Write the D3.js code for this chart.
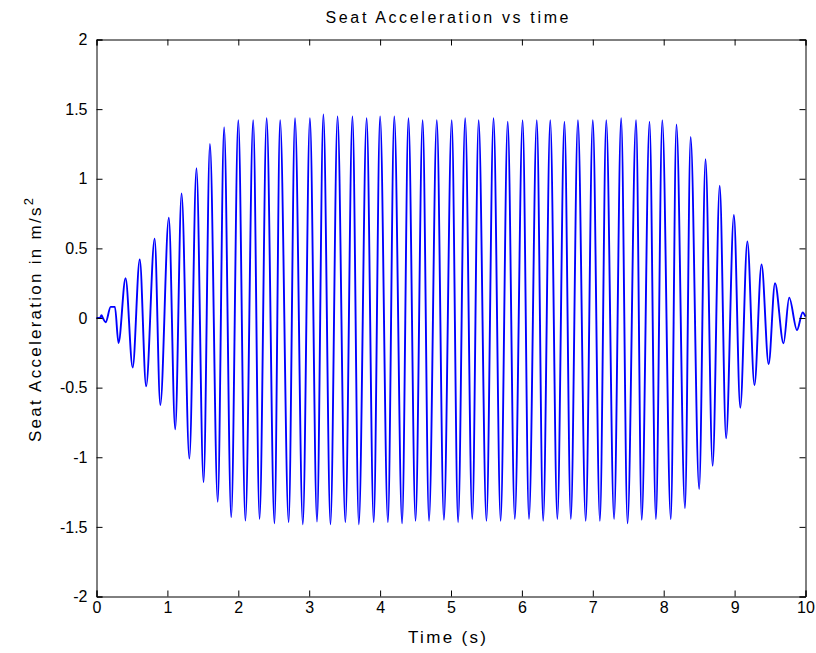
<!DOCTYPE html>
<html>
<head>
<meta charset="utf-8">
<script src="https://cdn.jsdelivr.net/npm/d3@7"></script>
<style>
  body { margin: 0; background: #fff; }
  text { font-family: "Liberation Sans", Arial, sans-serif; fill: #000; }
</style>
</head>
<body>
<svg id="chart" width="816" height="653"></svg>
<script>
// Turning points of the seat acceleration trace (time in s, value in m/s^2)
const extremeTimes = [
  0.00, 0.05, 0.07, 0.09, 0.13, 0.20, 0.26, 0.31,
  0.41, 0.51, 0.61, 0.70, 0.82, 0.90, 1.02, 1.11, 1.20, 1.31,
  1.41, 1.51, 1.60, 1.71, 1.80, 1.90, 2.00, 2.10,
  2.21, 2.30, 2.40, 2.51, 2.59, 2.71, 2.80, 2.91, 3.01, 3.11,
  3.20, 3.30, 3.40, 3.51, 3.61, 3.70, 3.81, 3.91, 4.00, 4.11,
  4.20, 4.31, 4.40, 4.50, 4.60, 4.69, 4.80, 4.90, 5.01, 5.10,
  5.20, 5.30, 5.39, 5.50, 5.60, 5.70, 5.80, 5.90, 6.01, 6.10,
  6.21, 6.30, 6.40, 6.50, 6.60, 6.69, 6.79, 6.90, 7.00, 7.10,
  7.19, 7.30, 7.40, 7.49, 7.61, 7.69, 7.80, 7.89, 7.98, 8.10,
  8.18, 8.30, 8.38, 8.50, 8.59, 8.69, 8.79, 8.88, 8.99, 9.08,
  9.18, 9.28, 9.38, 9.48, 9.57, 9.69, 9.77, 9.88, 9.96, 10.00
];
const extremeValues = [
  0.00, 0.00, 0.02, 0.00, -0.03, 0.08, 0.08, -0.18,
  0.285, -0.355, 0.42, -0.49, 0.57, -0.625, 0.72, -0.80, 0.895, -1.01,
  1.075, -1.18, 1.25, -1.32, 1.37, -1.43, 1.42, -1.455,
  1.42, -1.443, 1.434, -1.474, 1.42, -1.467, 1.434, -1.481, 1.434, -1.462,
  1.462, -1.481, 1.448, -1.467, 1.448, -1.481, 1.434, -1.467, 1.448, -1.467,
  1.448, -1.474, 1.434, -1.457, 1.42, -1.457, 1.42, -1.45, 1.42, -1.467,
  1.434, -1.443, 1.42, -1.457, 1.434, -1.457, 1.41, -1.443, 1.42, -1.443,
  1.42, -1.457, 1.42, -1.443, 1.41, -1.443, 1.42, -1.457, 1.42, -1.457,
  1.42, -1.443, 1.434, -1.474, 1.42, -1.45, 1.41, -1.445, 1.42, -1.445,
  1.39, -1.366, 1.30, -1.228, 1.14, -1.062, 0.95, -0.864, 0.74, -0.644,
  0.55, -0.481, 0.385, -0.33, 0.25, -0.182, 0.146, -0.086, 0.04, 0.01
];

const xTicks = [0, 1, 2, 3, 4, 5, 6, 7, 8, 9, 10];
const yTicks = [-2, -1.5, -1, -0.5, 0, 0.5, 1, 1.5, 2];
const titleText = "Seat Acceleration vs time";
const xLabelText = "Time (s)";
const yLabelText = "Seat Acceleration in m/s";
const yLabelSup = "2";

const svg = d3.select("#chart");
const plotLeft = 96.5, plotRight = 805.5, plotTop = 39.5, plotBottom = 596.5;

const x = d3.scaleLinear().domain([0, 10]).range([plotLeft, plotRight]);
const y = d3.scaleLinear().domain([-2, 2]).range([plotBottom, plotTop]);

const points = extremeTimes.map((t, i) => [t, extremeValues[i]]);

// signal trace: smooth oscillation through each turning point
svg.append("path")
  .datum(points)
  .attr("fill", "none")
  .attr("stroke", "#0000ff")
  .attr("stroke-width", 1.9)
  .attr("d", d3.line().curve(d3.curveMonotoneX).x(d => x(d[0])).y(d => y(d[1])));

// axes with inward ticks on all four sides; plain hyphen for negatives
const fmt = d => String(d);
const tickLen = 6;

const gB = svg.append("g").attr("transform", `translate(0,${plotBottom})`)
  .call(d3.axisBottom(x).tickValues(xTicks).tickFormat(fmt).tickSize(-tickLen).tickPadding(5));
const gT = svg.append("g").attr("transform", `translate(0,${plotTop})`)
  .call(d3.axisTop(x).tickValues(xTicks).tickFormat("").tickSize(-tickLen));
const gL = svg.append("g").attr("transform", `translate(${plotLeft},0)`)
  .call(d3.axisLeft(y).tickValues(yTicks).tickFormat(fmt).tickSize(-tickLen).tickPadding(9));
const gR = svg.append("g").attr("transform", `translate(${plotRight},0)`)
  .call(d3.axisRight(y).tickValues(yTicks).tickFormat("").tickSize(-tickLen));

[gB, gT, gL, gR].forEach(g => {
  g.select(".domain").attr("stroke", "#000").attr("stroke-width", 1);
  g.selectAll(".tick line").attr("stroke", "#000").attr("stroke-width", 1);
  g.selectAll(".tick text").attr("font-size", 16).attr("fill", "#000")
    .style("font-family", '"Liberation Sans", Arial, sans-serif');
});

// title
svg.append("text")
  .attr("x", 447).attr("y", 23)
  .attr("text-anchor", "middle")
  .attr("font-size", 16)
  .attr("textLength", 243)
  .attr("lengthAdjust", "spacing")
  .text(titleText);

// x label
svg.append("text")
  .attr("x", 447).attr("y", 643)
  .attr("text-anchor", "middle")
  .attr("font-size", 17)
  .attr("textLength", 78)
  .attr("lengthAdjust", "spacing")
  .text(xLabelText);

// y label with superscript
const yl = svg.append("text")
  .attr("transform", "translate(41,320) rotate(-90)")
  .attr("text-anchor", "middle")
  .attr("font-size", 17)
  .attr("textLength", 244)
  .attr("lengthAdjust", "spacing");
yl.append("tspan").text(yLabelText);
yl.append("tspan").attr("dy", -8).attr("font-size", 13).text(yLabelSup);
</script>
</body>
</html>
